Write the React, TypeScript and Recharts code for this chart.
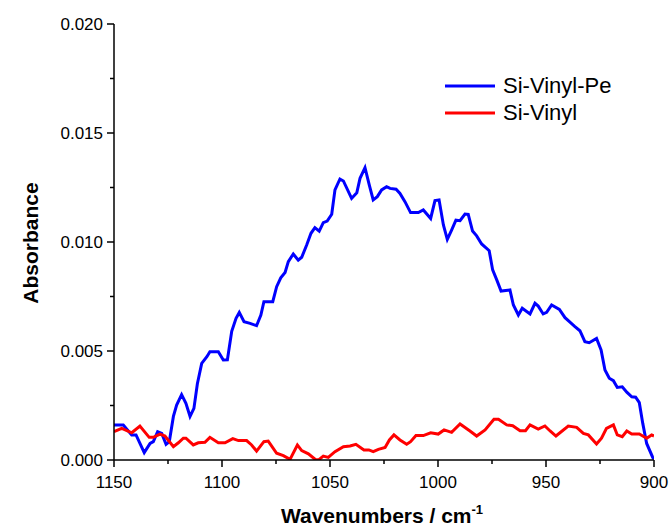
import { LineChart, Line, XAxis, YAxis, Legend } from "recharts";

// Si-Vinyl-Pe spectrum (blue)
const peWavenumbers = [
  1150, 1145.7, 1141.8, 1139.8, 1136, 1133.3, 1131.8, 1129.8, 1127.9, 1125.9,
  1124.4, 1122.5, 1121, 1118.7, 1116.7, 1114.8, 1113, 1111.4, 1109.4, 1107,
  1105.6, 1101.7, 1099.4, 1097.5, 1095.5, 1093.5, 1092, 1089.8, 1087, 1084,
  1082, 1080.6, 1076.5, 1074.7, 1072.8, 1070.8, 1069.3, 1067, 1064.7, 1063.1,
  1060.8, 1058.8, 1057, 1055, 1053.1, 1051.3, 1049.2, 1047.7, 1045.4, 1043.8,
  1040, 1037.6, 1036.1, 1033.8, 1031.8, 1030, 1028.1, 1026.1, 1023.8, 1022.2,
  1019.4, 1017.6, 1015.3, 1012.7, 1009.1, 1006.8, 1003.4, 1001.4, 999.5, 997.5,
  995.7, 993.7, 991.7, 989.8, 987.5, 986, 984, 982.1, 979.8, 976.3,
  974.7, 972.8, 970.8, 966.7, 965.1, 962.8, 961, 957.4, 955.1, 953.6,
  951.3, 949.7, 947.4, 943.8, 941.2, 938.9, 936.6, 934.3, 932, 930,
  926.6, 924.5, 922.7, 920.7, 918.8, 917, 914.7, 912.6, 910.3, 908.5,
  906.8, 905.2, 903.4, 900.6, 900,
];
const peAbsorbance = [
  0.0016, 0.0016, 0.00115, 0.00115, 0.00034, 0.00076, 0.00084, 0.0013, 0.00122, 0.00072,
  0.00084, 0.002, 0.00252, 0.003, 0.0026, 0.002, 0.00237, 0.0035, 0.00443, 0.00474,
  0.00497, 0.00497, 0.00459, 0.0046, 0.0059, 0.0065, 0.00677, 0.00634, 0.00627, 0.00616,
  0.00665, 0.00726, 0.00726, 0.00795, 0.00836, 0.0086, 0.0091, 0.00945, 0.00917, 0.0093,
  0.00986, 0.0104, 0.01066, 0.0105, 0.01089, 0.01096, 0.01127, 0.01239, 0.01289, 0.0128,
  0.012, 0.01226, 0.01292, 0.01341, 0.01261, 0.01193, 0.01208, 0.01239, 0.01254, 0.01246,
  0.01242, 0.01223, 0.01185, 0.01135, 0.01135, 0.01147, 0.01108, 0.0119, 0.01193, 0.01078,
  0.01012, 0.01055, 0.011, 0.01098, 0.01128, 0.01127, 0.0105, 0.01028, 0.00991, 0.0096,
  0.00872, 0.00826, 0.00775, 0.0078, 0.00711, 0.00665, 0.00696, 0.0067, 0.00719, 0.00706,
  0.0067, 0.00677, 0.00711, 0.00691, 0.00653, 0.00632, 0.00612, 0.00593, 0.00543, 0.00538,
  0.00558, 0.00505, 0.00413, 0.00375, 0.00364, 0.00333, 0.00336, 0.00311, 0.0029, 0.00288,
  0.00263, 0.00168, 0.00076, 0.00012, 0.00005,
];

// Si-Vinyl spectrum (red)
const vinylWavenumbers = [
  1150, 1146.4, 1141.8, 1138, 1133.7, 1131.8, 1128.7, 1126.4, 1122.5, 1120.2,
  1117.9, 1116.7, 1113.3, 1111, 1107.9, 1105.6, 1101.7, 1098.6, 1095, 1092.4,
  1088.6, 1086.3, 1084, 1080.6, 1078.6, 1074.7, 1071.6, 1068.5, 1065.1, 1063.1,
  1060, 1056.5, 1055, 1053.1, 1050.8, 1047.7, 1043.8, 1040.7, 1038, 1034.3,
  1032, 1030, 1027.6, 1024.5, 1022.5, 1020.4, 1017.6, 1014.5, 1012.7, 1010.2,
  1006.8, 1003.4, 999.9, 997.2, 993.7, 989.8, 985.2, 982.1, 978.2, 974.1,
  972, 968.2, 965.4, 962, 959.5, 957.4, 953.6, 950.5, 948.1, 945.4,
  939.7, 935.8, 932.7, 930.4, 926.6, 924.3, 922, 918.8, 917, 914.7,
  912.6, 910.3, 906.8, 903.4, 901.1, 900,
];
const vinylAbsorbance = [
  0.0013, 0.00145, 0.00125, 0.00156, 0.00104, 0.00104, 0.00119, 0.0011, 0.00061, 0.00079,
  0.001, 0.001, 0.00069, 0.00079, 0.00081, 0.00104, 0.00079, 0.00079, 0.00098, 0.00089,
  0.00089, 0.00069, 0.00041, 0.00084, 0.00087, 0.00031, 0.0002, 0.00003, 0.00069, 0.00043,
  0.00028, 0.0, 0.00003, 0.00018, 0.00012, 0.00038, 0.00061, 0.00064, 0.00072, 0.00046,
  0.00046, 0.00038, 0.00049, 0.00057, 0.00092, 0.00115, 0.00092, 0.00072, 0.00084, 0.00112,
  0.00112, 0.00125, 0.00119, 0.00138, 0.00127, 0.00165, 0.00133, 0.0011, 0.00138, 0.00187,
  0.00187, 0.00161, 0.00157, 0.00134, 0.00134, 0.00161, 0.00142, 0.00156, 0.00133, 0.0011,
  0.00156, 0.0015, 0.00122, 0.00115, 0.00073, 0.001, 0.00145, 0.00161, 0.00115, 0.00107,
  0.00133, 0.00119, 0.00119, 0.001, 0.00115, 0.0011,
];

const xTicks = [1150, 1125, 1100, 1075, 1050, 1025, 1000, 975, 950, 925, 900];
const yTicks = [0, 0.0025, 0.005, 0.0075, 0.01, 0.0125, 0.015, 0.0175, 0.02];

const seriesNames = ["Si-Vinyl-Pe", "Si-Vinyl"];
const seriesColors = ["#0000ff", "#ff0000"];

const peData = peWavenumbers.map((w, i) => ({ w, a: peAbsorbance[i] }));
const vinylData = vinylWavenumbers.map((w, i) => ({ w, a: vinylAbsorbance[i] }));

const FONT = '"Liberation Sans", Arial, sans-serif';

function XTick({ x, y, payload }: any) {
  const major = payload.value % 50 === 0;
  return (
    <g>
      <line x1={x} x2={x} y1={y} y2={y + (major ? 7 : 4)} stroke="#000" strokeWidth={1.5} />
      {major && (
        <text x={x} y={y + 28} textAnchor="middle" fontSize={17} fontFamily={FONT} fill="#000">
          {payload.value}
        </text>
      )}
    </g>
  );
}

function YTick({ x, y, payload, index }: any) {
  const major = index % 2 === 0;
  return (
    <g>
      <line x1={x - (major ? 7 : 4)} x2={x} y1={y} y2={y} stroke="#000" strokeWidth={1.5} />
      {major && (
        <text x={x - 11} y={y + 6} textAnchor="end" fontSize={17} fontFamily={FONT} fill="#000">
          {payload.value.toFixed(3)}
        </text>
      )}
    </g>
  );
}

// legend keeps the plotting order: Si-Vinyl-Pe on top
function LegendBox() {
  return (
    <div style={{ fontFamily: FONT, fontSize: 22, color: "#000" }}>
      {seriesNames.map((name, i) => (
        <div key={name} style={{ display: "flex", alignItems: "center", height: 27 }}>
          <svg width={58} height={6}>
            <line x1={0} x2={50} y1={3} y2={3} stroke={seriesColors[i]} strokeWidth={3} />
          </svg>
          <span>{name}</span>
        </div>
      ))}
    </div>
  );
}

export default function App() {
  return (
    <div style={{ position: "absolute", left: 0, top: 0, background: "#fff" }}>
      <LineChart
        width={669}
        height={527}
        margin={{ top: 24, right: 15, left: 0, bottom: 0 }}
      >
        <XAxis
          type="number"
          dataKey="w"
          domain={[900, 1150]}
          reversed
          ticks={xTicks}
          interval={0}
          height={67}
          tickSize={0}
          tickMargin={0}
          tick={<XTick />}
          tickLine={false}
          axisLine={{ stroke: "#000", strokeWidth: 1.5 }}
          allowDataOverflow
          label={({ viewBox }: any) => (
            <text
              x={viewBox.x + viewBox.width / 2 - 2}
              y={523}
              textAnchor="middle"
              fontSize={21}
              fontWeight="bold"
              fontFamily={FONT}
              fill="#000"
            >
              Wavenumbers / cm
              <tspan fontSize={13} dy={-9}>-1</tspan>
            </text>
          )}
        />
        <YAxis
          type="number"
          dataKey="a"
          domain={[0, 0.02]}
          ticks={yTicks}
          interval={0}
          width={114}
          tickSize={0}
          tickMargin={0}
          tick={<YTick />}
          tickLine={false}
          axisLine={{ stroke: "#000", strokeWidth: 1.5 }}
          allowDataOverflow
          label={() => (
            <text
              x={38}
              y={243}
              transform="rotate(-90, 38, 243)"
              textAnchor="middle"
              fontSize={21}
              fontWeight="bold"
              fontFamily={FONT}
              fill="#000"
            >
              Absorbance
            </text>
          )}
        />
        <Legend
          layout="vertical"
          verticalAlign="middle"
          align="center"
          wrapperStyle={{ left: 445, top: 72, width: 200 }}
          content={<LegendBox />}
        />
        <Line
          data={peData}
          dataKey="a"
          name={seriesNames[0]}
          type="linear"
          stroke={seriesColors[0]}
          strokeWidth={3}
          dot={false}
          activeDot={false}
          isAnimationActive={false}
        />
        <Line
          data={vinylData}
          dataKey="a"
          name={seriesNames[1]}
          type="linear"
          stroke={seriesColors[1]}
          strokeWidth={3}
          dot={false}
          activeDot={false}
          isAnimationActive={false}
        />
      </LineChart>
    </div>
  );
}
